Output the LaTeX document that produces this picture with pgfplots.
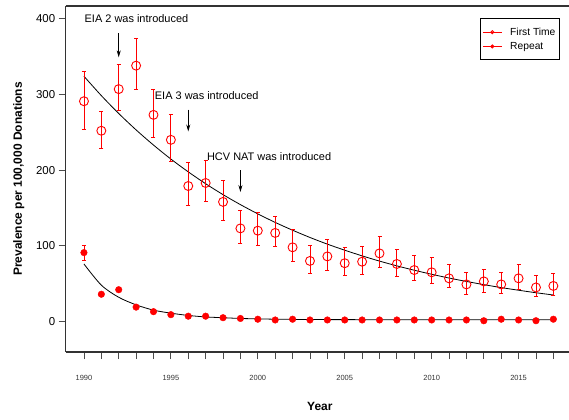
\documentclass[border=0pt]{standalone}
\usepackage{pgfplots}
\pgfplotsset{compat=1.18}
\usepackage{pgfplotstable}
\usepackage{fontspec}
\setmainfont{Liberation Sans}
\usetikzlibrary{arrows.meta}

% first time donors: year, prevalence, upper and lower error
\pgfplotstableread{
x y ep em
1990 291 39 37
1991 252 26 24
1992 307 33 28
1993 338 36 31
1994 273 33 30
1995 240 33 29
1996 179 31 26
1997 183 30 25
1998 158 28 25
1999 123 24 20
2000 120 24 20
2001 117 22 18
2002 98 23 19
2003 80 21 17
2004 86 23 18
2005 77 21 16
2006 79 20 17
2007 90 23 18
2008 76 19 16
2009 68 19 14
2010 65 19 15
2011 57 19 12
2012 49 16 13
2013 53 16 14
2014 49 16 12
2015 57 19 15
2016 45 16 12
2017 47 16 13
}\firsttime

% repeat donors
\pgfplotstableread{
x y ep em
1990 91 9 10
1991 36 2 2
1992 42 2 2
1993 19 1 1
1994 13 1 1
1995 9 1 1
1996 7 1 1
1997 7 1 1
1998 5 1 1
1999 4 1 1
2000 3 1 1
2001 2 1 1
2002 3 1 1
2003 2 1 1
2004 2 1 1
2005 2 1 1
2006 2 1 1
2007 2 1 1
2008 2 1 1
2009 2 1 1
2010 2 1 1
2011 2 1 1
2012 2 1 1
2013 1 1 1
2014 3 1 1
2015 2 1 1
2016 1 1 1
2017 3 1 1
}\repeatdon

\begin{document}
\begin{tikzpicture}
\begin{axis}[
  scale only axis,
  width=503.3bp, height=346bp,
  xmin=1988.95, xmax=2017.9,
  ymin=-40.3, ymax=416.8,
  axis x line=box, axis y line=left,
  axis line style={line width=1.4bp, black!80},
  y axis line style={-},
  tick align=outside,
  xtick pos=bottom, ytick pos=left,
  xtick={1990,1995,...,2015},
  minor xtick={1990,...,2017},
  ytick={0,100,200,300,400},
  major tick length=7bp, minor tick length=7bp,
  tick style={black!70, line width=0.8bp},
  /pgf/number format/assume math mode=true,
  /pgf/number format/1000 sep={},
  xticklabel style={font=\fontsize{7.5}{9}\selectfont, text=black!80, yshift=-13bp},
  yticklabel style={font=\fontsize{11.5}{13}\selectfont},
  xlabel={Year}, ylabel={Prevalence per 100,000 Donations},
  every axis x label/.style={at={(axis description cs:0.505,0)}, yshift=-54.7bp, anchor=center, font=\bfseries\fontsize{12}{14}\selectfont},
  every axis y label/.style={at={(axis description cs:0,0.5)}, xshift=-47bp, rotate=90, anchor=center, font=\bfseries\fontsize{12}{14}\selectfont},
  legend style={at={(0.982,0.9645)}, anchor=north east, draw=black, line width=1bp,
    font=\fontsize{10.3}{12}\selectfont, cells={anchor=west},
    inner xsep=2bp, inner ysep=7bp, row sep=1.5bp,
    /tikz/every odd column/.append style={column sep=6bp}},
  legend image code/.code={\draw[mark repeat=2, mark phase=2, #1] plot coordinates {(0bp,0bp) (9.5bp,0bp) (19bp,0bp)};},
  clip=false,
]
% legend entries
\addlegendimage{red, line width=0.8bp, mark=o, mark size=1.6bp}
\addlegendentry{First Time}
\addlegendimage{red, line width=0.8bp, mark=*, mark size=1.6bp}
\addlegendentry{Repeat}

% fitted curves
\addplot[black, line width=0.8bp, smooth, forget plot] coordinates {
(1990,324) (1991,298.4) (1992,274.8) (1993,253.1) (1994,233.1) (1995,214.6)
(1996,197.7) (1997,182.0) (1998,167.6) (1999,154.4) (2000,142.2) (2001,130.9)
(2002,120.6) (2003,111.0) (2004,102.2) (2005,94.2) (2006,86.7) (2007,79.8)
(2008,73.5) (2009,67.7) (2010,62.4) (2011,57.4) (2012,52.9) (2013,48.7)
(2014,44.8) (2015,41.3) (2016,38.0) (2017,35.0)
};
\addplot[black, line width=0.8bp, smooth, forget plot] coordinates {
(1990,76) (1991,48) (1992,32) (1993,22) (1994,15) (1995,11) (1996,8)
(1997,6) (1998,5) (1999,4) (2000,3.5) (2001,3) (2002,2.8) (2003,2.6)
(2004,2.5) (2005,2.5) (2006,2.4) (2007,2.4) (2008,2.3) (2009,2.3)
(2010,2.3) (2011,2.3) (2012,2.3) (2013,2.3) (2014,2.3) (2015,2.3)
(2016,2.3) (2017,2.3)
};

% data with error bars
\addplot[red, only marks, mark=o, mark size=4.5bp, mark options={line width=0.9bp}, forget plot,
  error bars/.cd, y dir=both, y explicit,
  error bar style={red, line width=0.9bp}, error mark options={rotate=90, red, line width=0.9bp, mark size=2bp}]
  table[x=x, y=y, y error plus=ep, y error minus=em] {\firsttime};
\addplot[red, only marks, mark=*, mark size=3.3bp, forget plot,
  error bars/.cd, y dir=both, y explicit,
  error bar style={red, line width=0.9bp}, error mark options={rotate=90, red, line width=0.9bp, mark size=2bp}]
  table[x=x, y=y, y error plus=ep, y error minus=em] {\repeatdon};

% annotations
\node[font=\fontsize{11}{13}\selectfont] at (axis cs:1993.02,399.6) {EIA 2 was introduced};
\draw[-{Stealth[length=7bp,width=4bp]}, line width=0.8bp] (axis cs:1992,381) -- (axis cs:1992,349);
\node[font=\fontsize{11}{13}\selectfont] at (axis cs:1997.06,298.3) {EIA 3 was introduced};
\draw[-{Stealth[length=7bp,width=4bp]}, line width=0.8bp] (axis cs:1996,280) -- (axis cs:1996,251);
\node[font=\fontsize{11}{13}\selectfont] at (axis cs:2000.65,217.7) {HCV NAT was introduced};
\draw[-{Stealth[length=7bp,width=4bp]}, line width=0.8bp] (axis cs:1999,200) -- (axis cs:1999,171);
\end{axis}
\pgfresetboundingbox
\path (current axis.south west) ++(-65.7bp,-68bp) rectangle ++(569bp,420bp);
\end{tikzpicture}
\end{document}
